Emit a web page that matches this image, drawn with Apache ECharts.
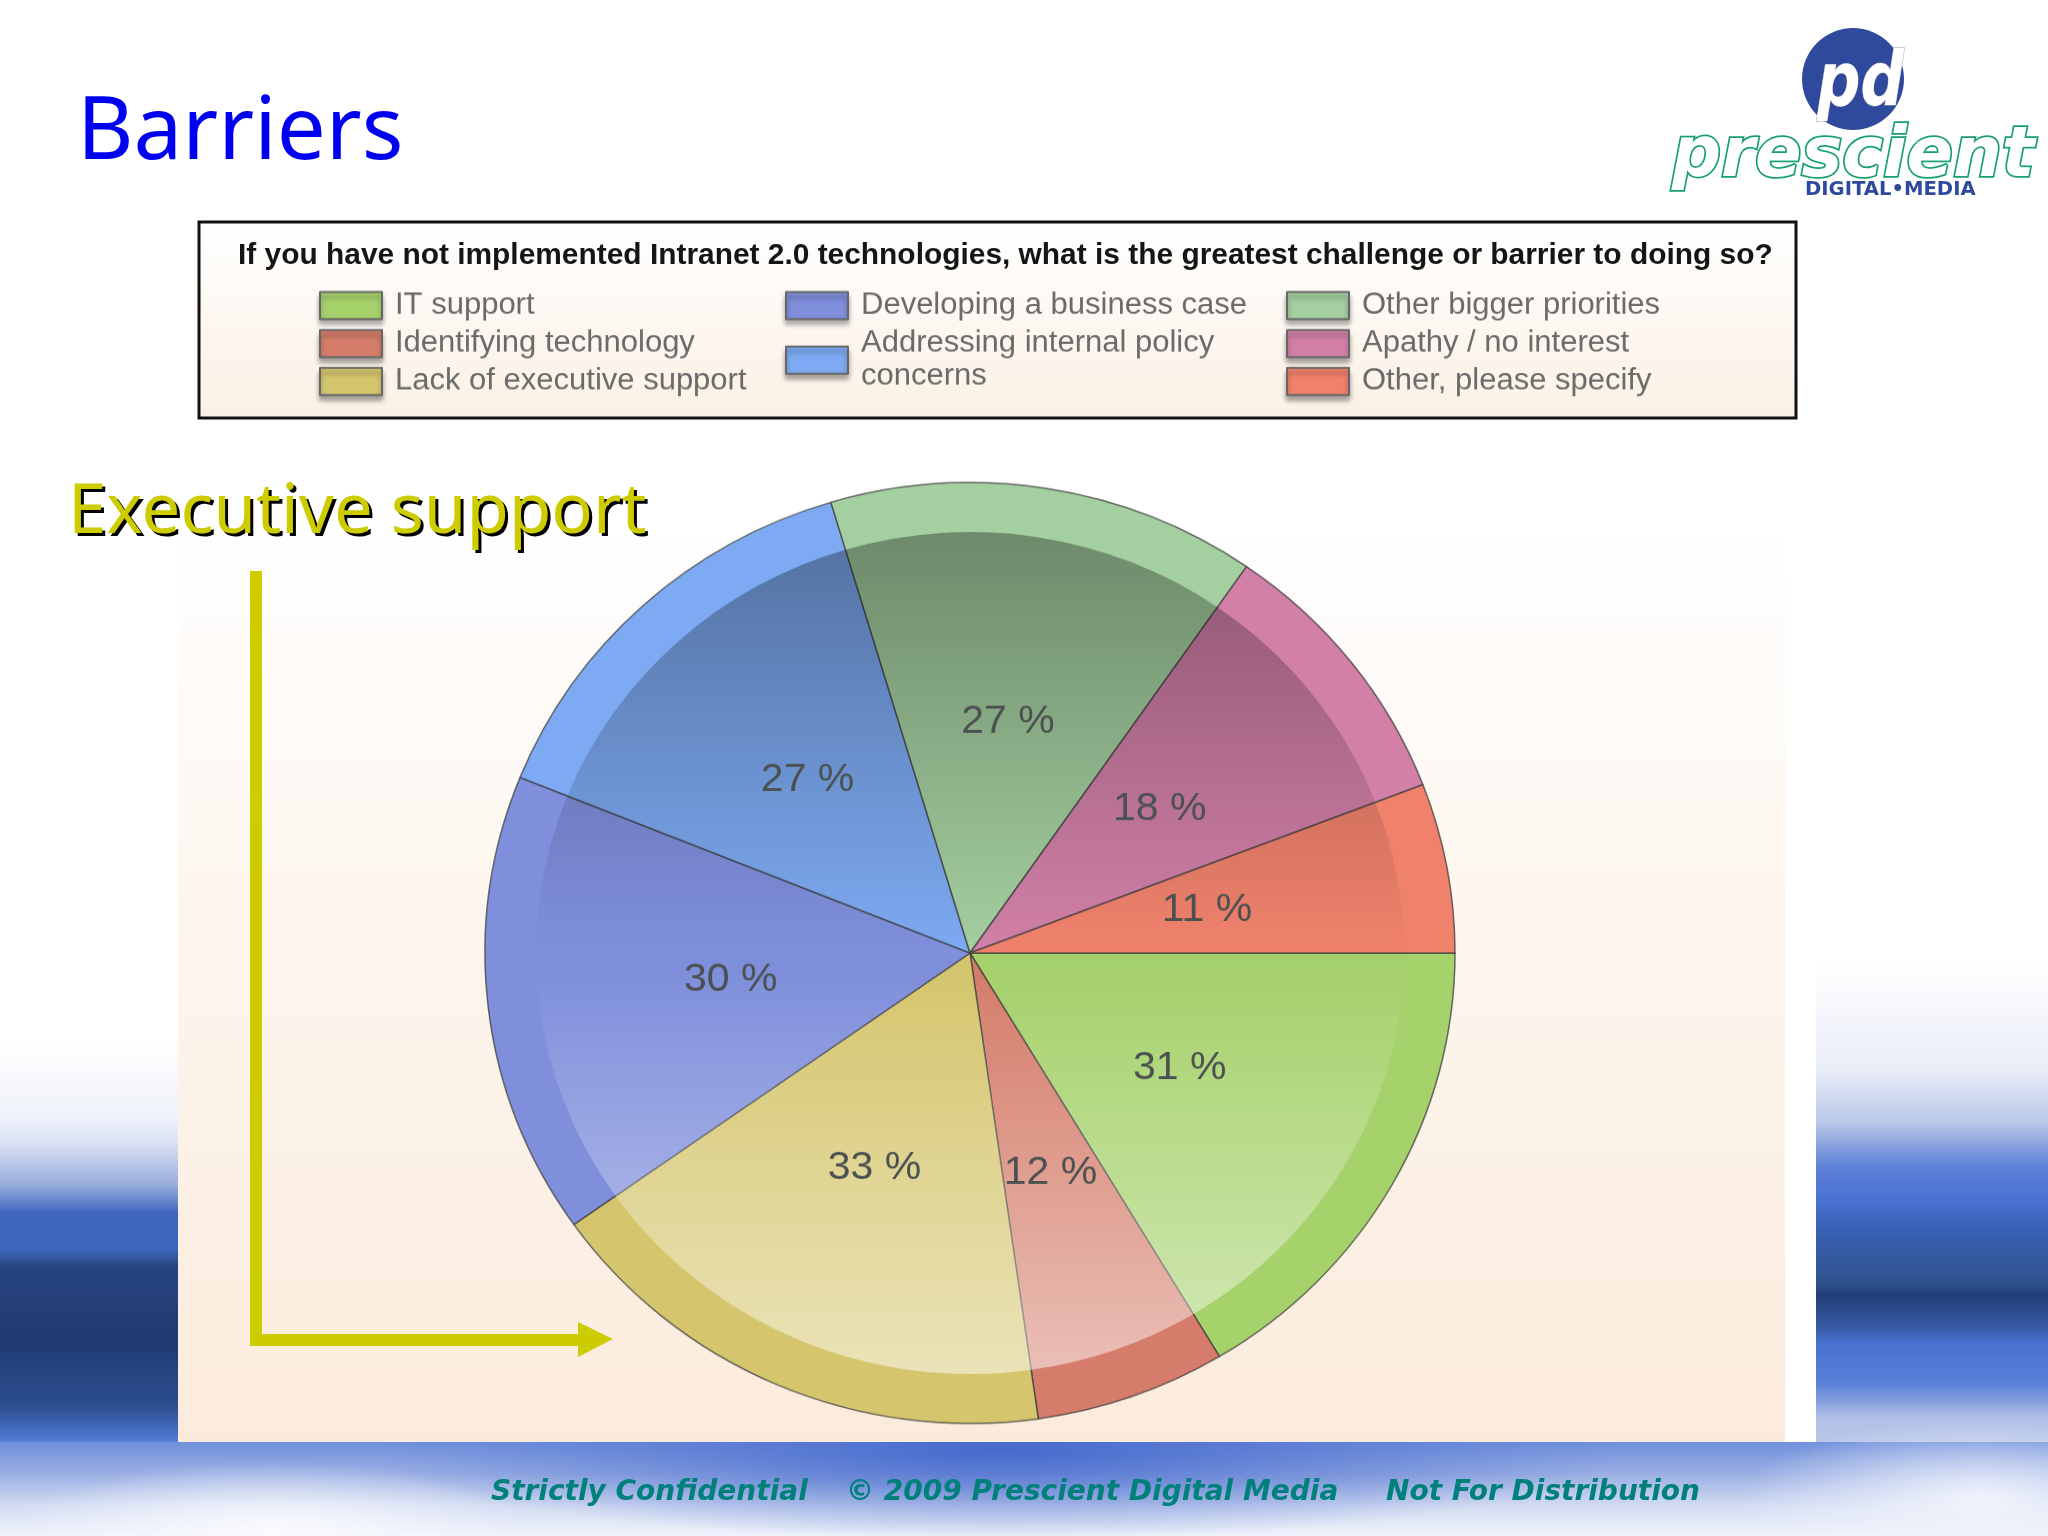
<!DOCTYPE html>
<html><head><meta charset="utf-8">
<script src="https://cdn.jsdelivr.net/npm/echarts@6/dist/echarts.min.js"></script>
<style>html,body{margin:0;padding:0;background:#fff;overflow:hidden}
#bg,#c{position:absolute;left:0;top:0;width:2048px;height:1536px}
#c{transform-origin:0 953px;transform:scaleY(0.97)}</style>
</head><body><div id="bg"></div><div id="c"></div>
<script>
const categories = ['IT support','Identifying technology','Lack of executive support','Developing a business case','Addressing internal policy\nconcerns','Other bigger priorities','Apathy / no interest','Other, please specify'];
const values = [31,12,33,30,27,27,18,11];
const colors = ['#a6d26c','#d57d6a','#d5c66e','#7f8fdc','#7daaf2','#a4cfa0','#d280a8','#f0826c'];
const questionText = 'If you have not implemented Intranet 2.0 technologies, what is the greatest challenge or barrier to doing so?';
const legendColumns = [categories.slice(0,3),categories.slice(3,5),categories.slice(5,8)];

const pieData = categories.map((n,i)=>({name:n,value:values[i],itemStyle:{color:colors[i]}}));
const overlay = {type:'linear',x:0,y:510,x2:0,y2:1395,global:true,colorStops:[
  {offset:0,color:'rgba(0,0,0,0.34)'},{offset:0.5,color:'rgba(0,0,0,0)'},{offset:0.55,color:'rgba(255,255,255,0.03)'},{offset:1,color:'rgba(255,255,255,0.52)'}]};
const v = (stops)=>({type:'linear',x:0,y:0,x2:0,y2:1,colorStops:stops.map(s=>({offset:s[0],color:s[1]}))});
const squash = 0.97, cy = 953;
const unsq = (y)=>cy-(cy-y)/squash;
const legendBase = {orient:'vertical',icon:'rect',itemWidth:62,itemHeight:28,itemGap:5.2,padding:0,selectedMode:false,
  textStyle:{fontFamily:'Liberation Sans',fontSize:31,color:'#6a6a6a',lineHeight:34,padding:[0,0,0,8]},
  itemStyle:{borderColor:'#666',borderWidth:2,shadowColor:'rgba(0,0,0,0.35)',shadowBlur:5,shadowOffsetY:5}};
const T=(x,y,text,font,fill,extra)=>({type:'text',x,y,silent:true,z:extra&&extra.z||5,scaleX:extra&&extra.sx||1,style:Object.assign({text,font,fill,textAlign:'left',textVerticalAlign:'middle'},extra&&extra.style||{})});
const bandL=v([[0,'#ffffff'],[0.19,'#eff2fa'],[0.25,'#dde3f4'],[0.36,'#98aedd'],[0.43,'#3f66bd'],[0.52,'#3d67bd'],[0.565,'#28447f'],[0.75,'#1f3a72'],[0.91,'#2c4e8f'],[0.985,'#4a73cc'],[1,'#5c80d6']]);
const bandR=v([[0,'#ffffff'],[0.23,'#e9edf8'],[0.335,'#bac8e9'],[0.43,'#5c80d6'],[0.495,'#4a73d4'],[0.555,'#3a62b6'],[0.67,'#2f528e'],[0.695,'#233e78'],[0.755,'#34569c'],[0.795,'#4872d0'],[0.88,'#5a80d8'],[0.95,'#b0c0e6'],[1,'#b8c6e8']]);
const rad=(a,b)=>({type:'radial',x:0.5,y:0.5,r:0.5,colorStops:[{offset:0,color:a},{offset:1,color:b}]});
const graphics=[
 {type:'rect',shape:{x:0,y:1040,width:180,height:402},style:{fill:bandL},z:-12,silent:true},
 {type:'rect',shape:{x:1814,y:960,width:234,height:482},style:{fill:bandR},z:-12,silent:true},
 {type:'rect',shape:{x:0,y:1442,width:2048,height:94},style:{fill:v([[0,'#7090dc'],[0.35,'#9cb0e4'],[0.7,'#d6def3'],[1,'#eef2fb']])},z:-12,silent:true},
 {type:'circle',x:1000,y:1450,scaleX:7,shape:{cx:0,cy:0,r:90},style:{fill:rad('rgba(70,106,205,1)','rgba(79,114,208,0)')},z:-11,silent:true},
 {type:'circle',x:1980,y:1500,scaleX:3,shape:{cx:0,cy:0,r:80},style:{fill:rad('rgba(242,245,252,0.95)','rgba(242,245,252,0)')},z:-11,silent:true},
 {type:'circle',x:270,y:1536,scaleX:3.5,shape:{cx:0,cy:0,r:75},style:{fill:rad('rgba(250,251,254,1)','rgba(248,249,253,0)')},z:-11,silent:true},
 {type:'rect',shape:{x:178,y:960,width:1638,height:482},style:{fill:'#ffffff'},z:-9,silent:true},
 {type:'rect',shape:{x:178,y:540,width:1607,height:902},style:{fill:v([[0,'#fffefe'],[0.3,'#fdf8f2'],[1,'#fbebdc']])},z:-8,silent:true},
 {type:'rect',shape:{x:199,y:222,width:1597,height:196},style:{fill:v([[0,'#ffffff'],[1,'#fbf0e4']]),stroke:'#111',lineWidth:3},z:-7,silent:true},
 T(71,516,'Executive support','69px "Noto Sans"','#000',{z:5}),
 T(68,513,'Executive support','69px "Noto Sans"','#cccc00',{z:6}),
 {type:'polyline',shape:{points:[[256,571],[256,1340],[580,1340]]},style:{stroke:'#cccc00',lineWidth:12,fill:null},z:5,silent:true},
 {type:'polygon',shape:{points:[[578,1322],[613,1339],[578,1357]]},style:{fill:'#cccc00'},z:5,silent:true},
 T(491,1493,'Strictly Confidential','italic bold 28px "DejaVu Sans"','#00807a'),
 T(846,1493,'\u00a9 2009 Prescient Digital Media','italic bold 28px "DejaVu Sans"','#00807a'),
 T(1386,1493,'Not For Distribution','italic bold 28px "DejaVu Sans"','#00807a'),
 {type:'circle',shape:{cx:1853,cy:79,r:51},style:{fill:'#2f4a9c'},z:5,silent:true},
 T(1817,86,'pd','italic bold 74px "DejaVu Sans"','#ffffff',{z:6,sx:0.82,style:{stroke:'#9a9fb0',lineWidth:1}}),
 T(1672,158,'prescient','italic bold 70px "DejaVu Sans"','#ffffff',{z:7,sx:0.98,style:{stroke:'#18a070',lineWidth:3.5}}),
 T(1805,190,'DIGITAL\u2022MEDIA','bold 20px "DejaVu Sans"','#2f4a9c',{z:8,sx:0.98})
];
const bg=echarts.init(document.getElementById('bg'),null,{renderer:'canvas'});
bg.setOption({
 animation:false,backgroundColor:'#ffffff',
 title:[
  {text:'Barriers',left:77,top:91,padding:0,textStyle:{fontFamily:'Noto Sans',fontWeight:'normal',fontSize:87,color:'#0000f0'}},
  {text:questionText,left:238,top:241,padding:0,textStyle:{fontFamily:'Liberation Sans',fontWeight:'bold',fontSize:29.9,color:'#151515'}}
 ],
 graphic:graphics
});
const chart=echarts.init(document.getElementById('c'),null,{renderer:'canvas'});
chart.setOption({
 animation:false,backgroundColor:'transparent',
 legend:[
  Object.assign({},legendBase,{data:legendColumns[0],left:319,top:unsq(289)}),
  Object.assign({},legendBase,{data:legendColumns[1],left:785,top:unsq(289)}),
  Object.assign({},legendBase,{data:legendColumns[2],left:1286,top:unsq(289)})
 ],
 series:[
  {type:'pie',name:'rim',center:[970,cy],radius:[0,485],startAngle:0,clockwise:true,silent:true,
   data:pieData,label:{show:false},labelLine:{show:false},
   itemStyle:{borderColor:'rgba(60,60,60,0.75)',borderWidth:1.5}},
  {type:'pie',name:'gloss',center:[970,cy],radius:[0,434],startAngle:0,clockwise:true,silent:true,
   data:categories.map((n,i)=>({name:n,value:values[i]})),label:{show:false},labelLine:{show:false},
   itemStyle:{color:overlay,borderWidth:0}},
  {type:'pie',name:'labels',center:[970,cy],radius:[0,476],startAngle:0,clockwise:true,silent:true,
   data:categories.map((n,i)=>({name:n,value:values[i]})),labelLine:{show:false},
   itemStyle:{color:'rgba(0,0,0,0)',borderWidth:0},
   label:{show:true,position:'inside',formatter:'{c} %',fontFamily:'Liberation Sans',fontSize:41,color:'#4b5050'}}
 ]
});
</script></body></html>
